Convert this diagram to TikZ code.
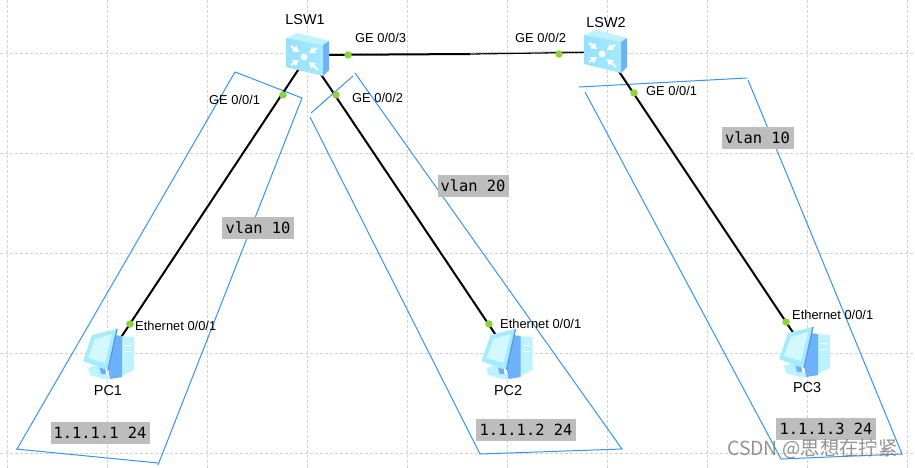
\documentclass[tikz,border=0pt]{standalone}
\usepackage{fontspec}
\setmainfont{Liberation Sans}
\newfontfamily\monolabel{DejaVu Sans Mono}
\newfontfamily\cjklabel{Noto Sans CJK SC}
\usetikzlibrary{arrows.meta,calc}
\definecolor{gridc}{HTML}{D2D2D2}
\definecolor{zonec}{HTML}{3593F2}
\definecolor{dotc}{HTML}{8CD33C}
\definecolor{boxc}{HTML}{BDBDBD}
\definecolor{iconlight}{HTML}{D4F8FF}
\definecolor{iconmid}{HTML}{A4EBFD}
\definecolor{iconblue}{HTML}{6DB0FB}
\definecolor{iconpale}{HTML}{BDF3FF}
\tikzset{
  gridline/.style={draw=gridc,line width=0.8pt,dash pattern=on 3pt off 2pt},
  zone/.style={draw=zonec,line width=1pt},
  link/.style={draw=black,line width=2pt},
  device/.style={inner sep=0pt,minimum size=0pt,outer sep=0pt},
  portdot/.style={circle,fill=dotc,inner sep=0pt,minimum size=7.5pt},
  portlabel/.style={font=\fontsize{12.9}{14}\selectfont,inner sep=0pt,anchor=west},
  devlabel/.style={font=\fontsize{14.4}{16}\selectfont,inner sep=0pt},
  graybox/.style={fill=boxc,font=\monolabel\fontsize{15.4}{18}\selectfont,inner sep=0pt,text depth=0pt,minimum height=22pt},
  switchicon/.pic={
    \fill[iconpale] (-22,-17) -- (-10,-22) -- (21,-14) -- (15,-10) -- cycle;
    \fill[iconblue] (15,-10) -- (21,-14) -- (21,15) -- (15,21) -- cycle;
    \shade[left color=iconmid!80!iconblue,right color=iconmid] (-22,-17) -- (15,-10) -- (15,21) -- (-22,12) -- cycle;
    \foreach \a/\b/\c/\d in {-17/-9/-9/-3, 9/-7/1/-2, -17/10/-9/5, 10/15/1/7}{
      \draw[white,line width=2pt,-{Triangle[length=6pt,width=7pt]}] (\a,\b) -- (\c,\d);
    }
    \fill[white] (-4,2) circle (3.4);
  },
  pcicon/.pic={
    \fill[iconpale] (8,-18) -- (24,-17) -- (24,16) -- (8,24) -- cycle;
    \fill[iconblue] (4,-19) -- (12,-18) -- (12,23) -- (0,25) -- (-2,14) -- cycle;
    \fill[iconpale] (-22,14) -- (-8,9) -- (-8,20) -- (-2,20) -- (0,25) -- (-6,25) -- (-20,21) -- cycle;
    \fill[iconblue] (-11,11) -- (-5,10) -- (-4,20) -- (-9,20) -- cycle;
    \fill[iconmid] (-27,7) -- (-18,-19) -- (7,-25) -- (-1,14) -- (-6,15) -- cycle;
    \fill[iconlight] (-22,4) -- (-15,-15) -- (2,-20) -- (-5,9) -- cycle;
    \draw[iconblue!85!black,line width=1.3pt] (7,-25) -- (-2,16);
    \draw[white,line width=0.8pt] (14,-9) -- (21,-9) (14,-3) -- (21,-3);
  }
}
\begin{document}
\begin{tikzpicture}[x=1pt,y=-1pt]
\useasboundingbox (0,0) rectangle (915,468);
% grid
\foreach \gx in {7,107,...,907}{\draw[gridline] (\gx,0) -- (\gx,468);}
\foreach \gy in {53,153,...,453}{\draw[gridline] (0,\gy) -- (915,\gy);}
% vlan zones
\draw[zone] (17,449) -- (235,72) -- (302,98) -- (158,465);
\draw[zone] (16,449) -- (158,463);
\draw[zone] (353,76) -- (311,113);
\draw[zone] (355,73) -- (622,449) -- (480,454) -- (310,117);
\draw[zone] (579,87) -- (747,78);
\draw[zone] (748,80) -- (902,454) -- (781,459) -- (585,92);
% devices
\node[device] (LSW1) at (308,55) {};
\node[device] (LSW2) at (606,52) {};
\node[device] (PC1) at (110,354) {};
\node[device] (PC2) at (508.5,354) {};
\node[device] (PC3) at (806,352) {};
% links
\draw[link] (LSW1) -- (PC1);
\draw[link] (LSW1) -- (PC2);
\draw[link] (LSW2) -- (PC3);
\coordinate (linkmid) at (470,54);
\draw[link] (LSW1) -- (linkmid);
\draw[draw=black,line width=1.3pt] (linkmid) -- (LSW2);
\draw[draw=gray!60,line width=0.9pt,dash pattern=on 2pt off 1pt] (linkmid) ++(0,-1) -- ($(LSW2)+(0,-1)$);
% icons
\pic at (LSW1) {switchicon};
\pic at (LSW2) {switchicon};
\pic at (PC1) {pcicon};
\pic at (PC2) {pcicon};
\pic at (PC3) {pcicon};
% port dots
\node[portdot] (d1) at (283,95) {};
\node[portdot] (d2) at (336,95) {};
\node[portdot] (d3) at (348,55) {};
\node[portdot] (d4) at (559,54) {};
\node[portdot] (d5) at (634,93) {};
\node[portdot] (d6) at (130,324) {};
\node[portdot] (d7) at (489,324) {};
\node[portdot] (d8) at (786,322) {};
% port labels
\node[portlabel] (p1) at (209,100) {GE 0/0/1};
\node[portlabel] (p2) at (352,98) {GE 0/0/2};
\node[portlabel] (p3) at (355,38) {GE 0/0/3};
\node[portlabel] (p4) at (515,38) {GE 0/0/2};
\node[portlabel] (p5) at (646,91) {GE 0/0/1};
\node[portlabel] (p6) at (135,326) {Ethernet 0/0/1};
\node[portlabel] (p7) at (500,324) {Ethernet 0/0/1};
\node[portlabel] (p8) at (792,315) {Ethernet 0/0/1};
% device labels
\node[devlabel] (l1) at (305,20) {LSW1};
\node[devlabel] (l2) at (606,23) {LSW2};
\node[devlabel] (l3) at (108,391) {PC1};
\node[devlabel] (l4) at (508,391) {PC2};
\node[devlabel] (l5) at (807,388) {PC3};
% gray labels
\node[graybox,minimum width=72pt] (v1) at (258,228) {vlan 10};
\node[graybox,minimum width=71pt] (v2) at (473,186) {vlan 20};
\node[graybox,minimum width=72pt] (v3) at (757.5,138) {vlan 10};
\node[graybox,minimum width=99pt] (a1) at (100,433) {1.1.1.1 24};
\node[graybox,minimum width=100pt] (a2) at (526,430) {1.1.1.2 24};
\node[graybox,minimum width=100pt] (a3) at (826,429) {1.1.1.3 24};
% watermark
\node[inner sep=0pt,anchor=west,text=gray,text opacity=0.85,font=\cjklabel\fontsize{19.4}{22}\selectfont] (wm) at (727,449) {CSDN @思想在拧紧};
\end{tikzpicture}
\end{document}
